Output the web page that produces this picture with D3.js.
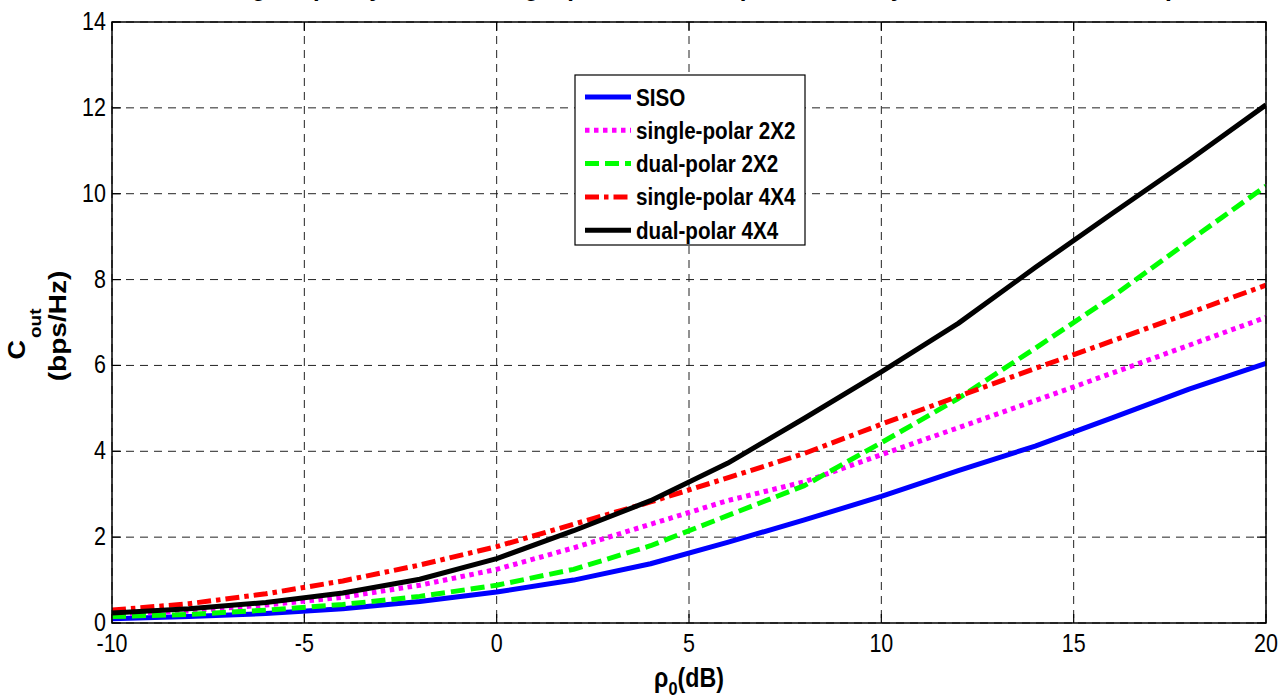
<!DOCTYPE html>
<html>
<head>
<meta charset="utf-8">
<script src="https://cdn.jsdelivr.net/npm/d3@7"></script>
<style>
  body { margin: 0; background: #fff; }
  svg { display: block; }
  text { font-family: "Liberation Sans", Arial, Helvetica, sans-serif; fill: #000; }
</style>
</head>
<body>
<svg id="chart" width="1287" height="698"></svg>
<script>
// SNR grid (dB) and outage capacity of each scheme (bps/Hz)
const snrDb = [-10, -8, -6, -4, -2, 0, 2, 4, 6, 8, 10, 12, 14, 16, 18, 20];
const siso          = [0.10, 0.15, 0.22, 0.33, 0.50, 0.72, 1.00, 1.38, 1.88, 2.40, 2.95, 3.55, 4.12, 4.78, 5.45, 6.05];
const singlePolar2  = [0.20, 0.28, 0.42, 0.60, 0.88, 1.25, 1.75, 2.30, 2.85, 3.29, 3.92, 4.55, 5.18, 5.82, 6.47, 7.12];
const dualPolar2    = [0.15, 0.20, 0.30, 0.43, 0.62, 0.88, 1.25, 1.80, 2.50, 3.20, 4.20, 5.23, 6.40, 7.60, 8.90, 10.18];
const singlePolar4  = [0.30, 0.45, 0.68, 0.98, 1.35, 1.78, 2.30, 2.82, 3.38, 3.95, 4.63, 5.28, 5.93, 6.57, 7.22, 7.87];
const dualPolar4    = [0.23, 0.33, 0.48, 0.70, 1.02, 1.50, 2.15, 2.85, 3.72, 4.77, 5.85, 6.98, 8.28, 9.54, 10.78, 12.07];

const seriesLabels = ["SISO", "single-polar 2X2", "dual-polar 2X2", "single-polar 4X4", "dual-polar 4X4"];
const seriesValues = [siso, singlePolar2, dualPolar2, singlePolar4, dualPolar4];

const xTickValues = [-10, -5, 0, 5, 10, 15, 20];
const yTickValues = [0, 2, 4, 6, 8, 10, 12, 14];

const titleText = "Outage capacity of SISO, single-polar and dual-polar MIMO systems versus the SNR ρ0";

// line styles, in series order
const lineStyles = [
  { color: "#0000ff", dash: null,         width: 5 },
  { color: "#ff00ff", dash: "4.5,4.5",    width: 5 },
  { color: "#00ff00", dash: "14,6",       width: 5 },
  { color: "#ff0000", dash: "14,5,4.5,5", width: 5 },
  { color: "#000000", dash: null,         width: 5 }
];

const svg = d3.select("#chart");
const box = { left: 112, top: 22, right: 1266, bottom: 623 };
const SX = 0.86; // horizontal squeeze applied to all text

const x = d3.scaleLinear().domain([-10, 20]).range([box.left, box.right]);
const y = d3.scaleLinear().domain([0, 14]).range([box.bottom, box.top]);

function txt(parent, px, py, rot) {
  return parent.append("text")
    .attr("transform", `translate(${px},${py}) scale(${SX},1)` + (rot ? ` rotate(${rot})` : ""));
}

// title (sits mostly above the top edge)
txt(svg, 695, -5)
  .attr("text-anchor", "middle")
  .attr("font-size", 28)
  .attr("font-weight", "bold")
  .text(titleText);

// plot background
svg.append("rect")
  .attr("x", box.left).attr("y", box.top)
  .attr("width", box.right - box.left).attr("height", box.bottom - box.top)
  .attr("fill", "#fff");

// dashed grid
const grid = svg.append("g").attr("stroke", "#222").attr("stroke-width", 1)
  .attr("stroke-dasharray", "8,6").attr("fill", "none");
grid.selectAll("line.v").data(xTickValues).join("line").attr("class", "v")
  .attr("x1", d => x(d)).attr("x2", d => x(d))
  .attr("y1", box.top).attr("y2", box.bottom);
grid.selectAll("line.h").data(yTickValues).join("line").attr("class", "h")
  .attr("x1", box.left).attr("x2", box.right)
  .attr("y1", d => y(d)).attr("y2", d => y(d));

// inward tick marks on all four sides
const tickLen = 9;
const ticks = svg.append("g").attr("stroke", "#000").attr("stroke-width", 1.2);
xTickValues.forEach(v => {
  ticks.append("line").attr("x1", x(v)).attr("x2", x(v)).attr("y1", box.bottom).attr("y2", box.bottom - tickLen);
  ticks.append("line").attr("x1", x(v)).attr("x2", x(v)).attr("y1", box.top).attr("y2", box.top + tickLen);
});
yTickValues.forEach(v => {
  ticks.append("line").attr("x1", box.left).attr("x2", box.left + tickLen).attr("y1", y(v)).attr("y2", y(v));
  ticks.append("line").attr("x1", box.right).attr("x2", box.right - tickLen).attr("y1", y(v)).attr("y2", y(v));
});

// data lines
svg.append("clipPath").attr("id", "plotClip").append("rect")
  .attr("x", box.left).attr("y", box.top)
  .attr("width", box.right - box.left).attr("height", box.bottom - box.top);

const line = d3.line().x(d => x(d[0])).y(d => y(d[1]));
const linesG = svg.append("g").attr("clip-path", "url(#plotClip)");
seriesValues.forEach((vals, i) => {
  const st = lineStyles[i];
  linesG.append("path")
    .datum(snrDb.map((s, k) => [s, vals[k]]))
    .attr("d", line)
    .attr("fill", "none")
    .attr("stroke", st.color)
    .attr("stroke-width", st.width)
    .attr("stroke-linejoin", "round")
    .attr("stroke-dasharray", st.dash);
});

// axes box
svg.append("rect")
  .attr("x", box.left).attr("y", box.top)
  .attr("width", box.right - box.left).attr("height", box.bottom - box.top)
  .attr("fill", "none").attr("stroke", "#000").attr("stroke-width", 1.5);

// tick labels
xTickValues.forEach(v => {
  txt(svg, x(v), 652).attr("text-anchor", "middle").attr("font-size", 25).text(v);
});
yTickValues.forEach(v => {
  txt(svg, 106, y(v) + 8).attr("text-anchor", "end").attr("font-size", 25).text(v);
});

// x-axis label: rho with subscript 0
const xl = txt(svg, 689, 687).attr("text-anchor", "middle").attr("font-size", 27).attr("font-weight", "bold");
xl.append("tspan").text("ρ");
xl.append("tspan").attr("font-size", 19).attr("dy", 8).text("0");
xl.append("tspan").attr("dy", -8).text("(dB)");

// y-axis label, two lines
const yl1 = txt(svg, 25, 334, -90).attr("text-anchor", "middle").attr("font-size", 27).attr("font-weight", "bold");
yl1.append("tspan").text("C");
yl1.append("tspan").attr("font-size", 19).attr("dx", 2).attr("dy", 19).text("out");
txt(svg, 66, 326, -90).attr("text-anchor", "middle").attr("font-size", 28).attr("font-weight", "bold").text("(bps/Hz)");

// legend
const lg = svg.append("g");
lg.append("rect").attr("x", 575).attr("y", 75).attr("width", 230).attr("height", 170)
  .attr("fill", "#fff").attr("stroke", "#000").attr("stroke-width", 1.2);
seriesLabels.forEach((name, i) => {
  const st = lineStyles[i];
  const cy = 97 + i * 33.3;
  lg.append("line").attr("x1", 585).attr("x2", 631).attr("y1", cy).attr("y2", cy)
    .attr("stroke", st.color).attr("stroke-width", st.width).attr("stroke-dasharray", st.dash);
  txt(lg, 636, cy + 8.5).attr("font-size", 24).attr("font-weight", "bold").text(name);
});
</script>
</body>
</html>
